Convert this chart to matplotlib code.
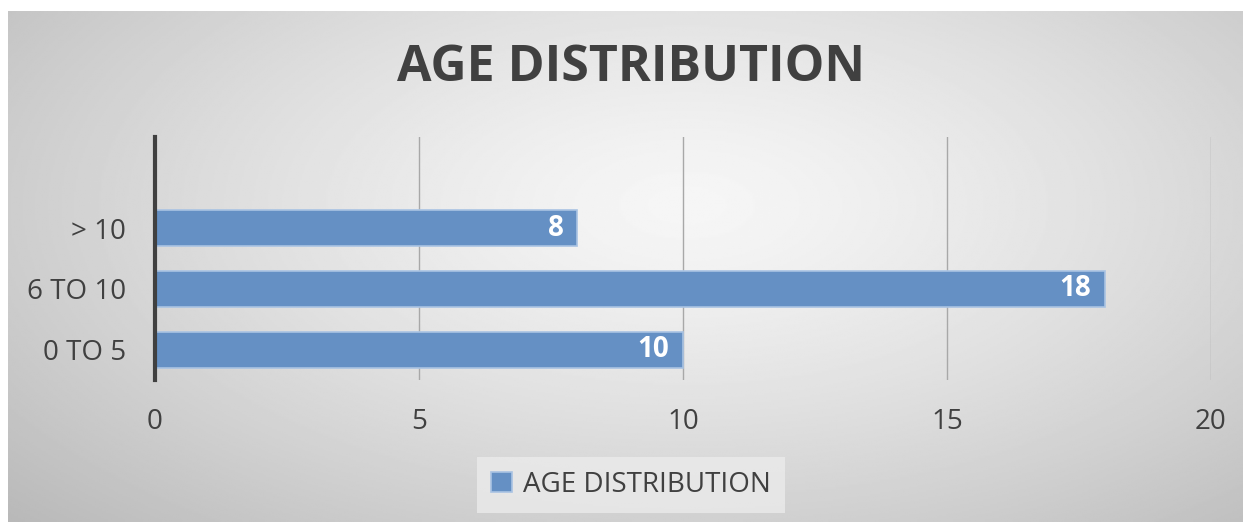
import numpy as np
import matplotlib.pyplot as plt

# dados do gráfico
categorias = ["0 TO 5", "6 TO 10", "> 10"]
valores = [10, 18, 8]
titulo = "AGE DISTRIBUTION"
serie = "AGE DISTRIBUTION"
x_ticks = [0, 5, 10, 15, 20]

plt.rcParams['font.family'] = ['Open Sans', 'DejaVu Sans']

W, H = 1243, 522
fig = plt.figure(figsize=(W / 100, H / 100), dpi=100, facecolor="white")

# fundo cinza com gradiente radial (estilo Excel)
bg = fig.add_axes([8 / W, 0, 1 - 8 / W, 1 - 11 / H], zorder=-5)
yy, xx = np.mgrid[0:1:300j, 0:1:700j]
r = np.sqrt(((xx - 0.55) / 0.75) ** 2 + ((yy - 0.62) / 0.9) ** 2)
shade = np.clip(0.965 - 0.24 * r ** 1.3, 0.72, 0.97)
bg.imshow(shade, cmap="gray", vmin=0, vmax=1, aspect="auto", origin="lower",
          extent=[0, 1, 0, 1])
bg.axis("off")

ax = fig.add_axes([155 / W, 1 - 380 / H, (1211 - 155) / W, (380 - 137) / H])
ax.patch.set_alpha(0)

pos = np.arange(len(categorias))
ax.barh(pos, valores, height=0.59, color="#6590c4", edgecolor="#a9c3e3",
        linewidth=1.2, label=serie, zorder=3)

for i, v in enumerate(valores):
    ax.annotate(str(v), xy=(v, i), xytext=(-10, 0), textcoords="offset points",
                ha="right", va="center", color="white", fontsize=20,
                fontweight="bold", zorder=4)

ax.set_xlim(0, 20)
ax.set_ylim(-0.5, 3.5)
ax.set_xticks(x_ticks)
ax.set_yticks(pos)
ax.set_yticklabels(categorias)
ax.tick_params(axis="both", length=0, labelsize=20, labelcolor="#404040")
ax.tick_params(axis="y", pad=21)
ax.tick_params(axis="x", pad=20)
ax.grid(axis="x", color="#a8a8a8", linewidth=1, zorder=0)
ax.grid(axis="y", visible=False)
for s in ["top", "right", "bottom"]:
    ax.spines[s].set_visible(False)
ax.spines["left"].set_color("#404040")
ax.spines["left"].set_linewidth(3)
ax.spines["left"].set_zorder(5)

fig.text(631 / W, 1 - 68 / H, titulo, ha="center", va="center", fontsize=36,
         fontweight="bold", color="#404040")

leg = fig.legend(loc="center", bbox_to_anchor=(631 / W, 1 - 485 / H),
                 fontsize=20, frameon=True, fancybox=False, handlelength=0.75,
                 handleheight=0.75, handletextpad=0.4, borderpad=0.5,
                 borderaxespad=0)
leg.get_frame().set_facecolor("#ebebeb")
leg.get_frame().set_edgecolor("none")
for t in leg.get_texts():
    t.set_color("#404040")

fig.savefig("out.png", dpi=100)
